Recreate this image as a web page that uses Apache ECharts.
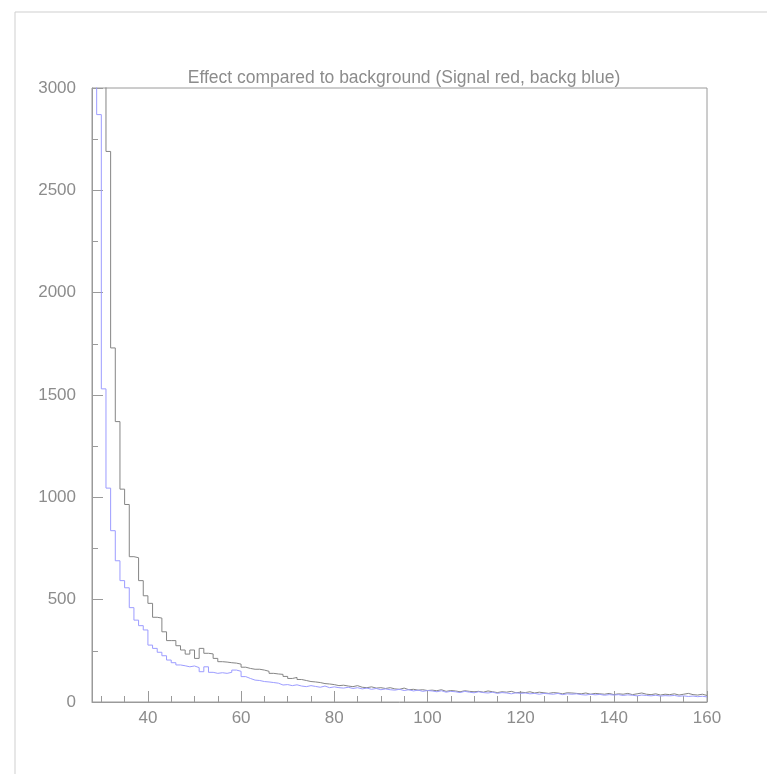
<!DOCTYPE html>
<html>
<head>
<meta charset="utf-8">
<script src="https://cdn.jsdelivr.net/npm/echarts@6/dist/echarts.min.js"></script>
<style>
html, body { margin: 0; padding: 0; background: #fff; }
#chart { width: 767px; height: 774px; }
</style>
</head>
<body>
<div id="chart"></div>
<script>
// histogram binning: 1 unit bins from 28 to 160
const xMin = 28;
const xMax = 160;
const binWidth = 1;
const yTicks = [0, 500, 1000, 1500, 2000, 2500, 3000];

// signal (drawn grey), one value per bin starting at 28
const signalCounts = [
  6000, 5000, 3800, 2690, 1730, 1370, 1040, 965, 710, 705,
  593, 519, 482, 414, 410, 343, 300, 300, 275, 254,
  234, 254, 213, 262, 238, 235, 213, 197, 195, 192,
  190, 185, 170, 164, 160, 160, 156, 150, 140, 137,
  135, 125, 115, 120, 110, 105, 100, 98, 95, 90,
  88, 85, 80, 82, 78, 75, 80, 72, 70, 74,
  68, 70, 66, 70, 64, 62, 68, 60, 62, 58,
  60, 56, 58, 55, 60, 52, 56, 54, 50, 55,
  52, 50, 52, 48, 54, 50, 46, 50, 48, 52,
  45, 48, 46, 50, 44, 48, 45, 42, 46, 44,
  40, 45, 44, 42, 40, 44, 38, 42, 40, 38,
  42, 36, 40, 38, 42, 36, 40, 44, 38, 36,
  40, 34, 38, 36, 40, 34, 38, 42, 36, 34,
  38, 32
];

// background (drawn blue)
const backgroundCounts = [
  4500, 2870, 1530, 1045, 837, 690, 593, 558, 461, 400,
  373, 352, 278, 262, 243, 226, 205, 192, 181, 177,
  172, 176, 168, 148, 172, 145, 140, 143, 140, 145,
  156, 150, 124, 115, 107, 105, 100, 98, 95, 92,
  83, 85, 80, 84, 78, 75, 80, 76, 72, 78,
  70, 74, 70, 68, 72, 66, 70, 64, 68, 62,
  66, 60, 64, 60, 58, 62, 56, 60, 54, 58,
  52, 56, 54, 50, 55, 48, 52, 50, 46, 52,
  48, 45, 50, 46, 44, 48, 42, 46, 44, 40,
  45, 42, 44, 40, 42, 38, 42, 40, 38, 42,
  36, 40, 38, 40, 36, 34, 38, 35, 37, 33,
  36, 34, 36, 32, 35, 33, 30, 34, 32, 30,
  33, 29, 31, 30, 32, 28, 30, 27, 29, 26,
  28, 25
];

// step points: [low edge, count] plus closing point at the last upper edge
function toSteps(counts) {
  const pts = counts.map((c, i) => [xMin + i * binWidth, c]);
  pts.push([xMin + counts.length * binWidth, counts[counts.length - 1]]);
  return pts;
}

const myChart = echarts.init(document.getElementById('chart'));
const axisGrey = '#9a9a9a';
const textGrey = '#8c8c8c';
const fontFamily = 'Liberation Sans, Arial, sans-serif';

myChart.setOption({
  animation: false,
  backgroundColor: '#fff',
  title: {
    text: 'Effect compared to background (Signal red, backg blue)',
    left: 399,
    top: 64,
    textAlign: 'center',
    textStyle: {color: textGrey, fontSize: 17.5, fontWeight: 'normal', fontFamily: fontFamily}
  },
  graphic: [
    {type: 'line', shape: {x1: 15, y1: 12, x2: 767, y2: 12}, style: {stroke: '#cfcfcf', lineWidth: 1}},
    {type: 'line', shape: {x1: 15, y1: 12, x2: 15, y2: 774}, style: {stroke: '#cfcfcf', lineWidth: 1}}
  ],
  grid: {
    left: 92,
    top: 88,
    right: 60,
    bottom: 72,
    show: true,
    borderColor: axisGrey,
    borderWidth: 1,
    containLabel: false
  },
  xAxis: {
    type: 'value',
    min: xMin,
    max: xMax,
    splitNumber: 7,
    splitLine: {show: false},
    axisLine: {show: true, lineStyle: {color: axisGrey}},
    axisTick: {show: true, inside: true, length: 11, lineStyle: {color: axisGrey}},
    minorTick: {show: true, splitNumber: 4, length: 6, lineStyle: {color: axisGrey}},
    axisLabel: {
      showMinLabel: false,
      margin: 8,
      color: textGrey,
      fontSize: 17,
      fontFamily: fontFamily,
      formatter: v => String(v)
    }
  },
  yAxis: {
    type: 'value',
    min: yTicks[0],
    max: yTicks[yTicks.length - 1],
    interval: yTicks[1] - yTicks[0],
    splitLine: {show: false},
    axisLine: {show: true, lineStyle: {color: axisGrey}},
    axisTick: {show: true, inside: true, length: 11, lineStyle: {color: axisGrey}},
    minorTick: {show: true, splitNumber: 2, length: 6, lineStyle: {color: axisGrey}},
    axisLabel: {
      margin: 16,
      color: textGrey,
      fontSize: 17,
      fontFamily: fontFamily,
      formatter: v => String(v)
    }
  },
  series: [
    {
      name: 'Signal',
      type: 'line',
      step: 'end',
      showSymbol: false,
      clip: true,
      data: toSteps(signalCounts),
      lineStyle: {color: '#858585', width: 1}
    },
    {
      name: 'Background',
      type: 'line',
      step: 'end',
      showSymbol: false,
      clip: true,
      data: toSteps(backgroundCounts),
      lineStyle: {color: '#9c9cff', width: 1}
    }
  ]
});
</script>
</body>
</html>
